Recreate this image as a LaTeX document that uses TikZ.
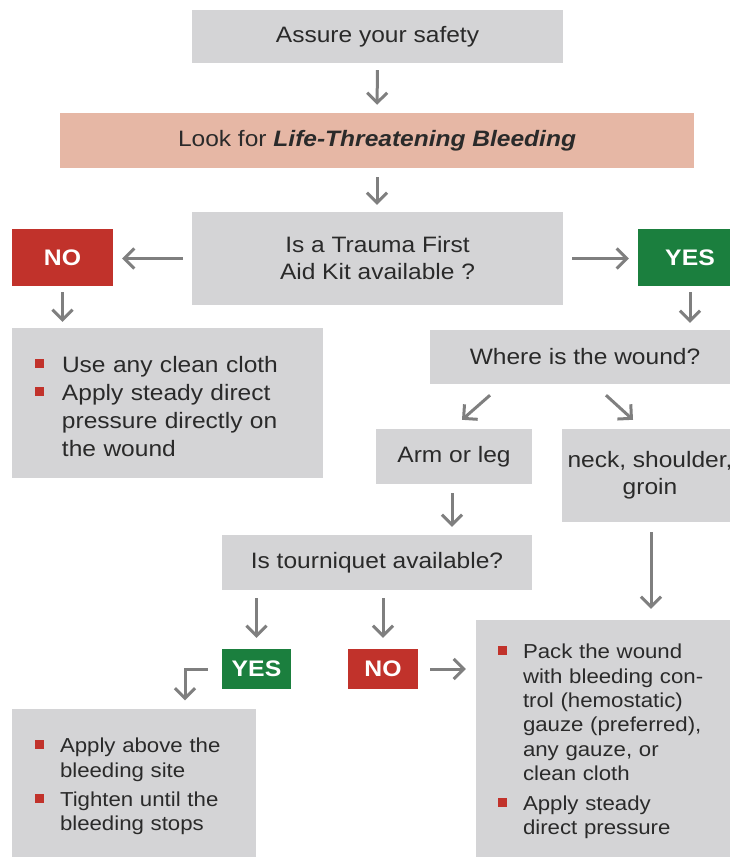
\documentclass[tikz,border=0pt]{standalone}
\usepackage{fontspec}
\setmainfont[FakeStretch=1.1]{Liberation Sans}
\usetikzlibrary{arrows.meta,calc}
\definecolor{boxgray}{HTML}{D4D4D6}
\definecolor{salmon}{HTML}{E6B7A5}
\definecolor{nored}{HTML}{C1322B}
\definecolor{yesgreen}{HTML}{1B7F3E}
\definecolor{arrgray}{HTML}{7F7F7F}
\definecolor{txt}{HTML}{2A2A2A}
\newcommand{\bsq}{\textcolor{nored}{\rule[4pt]{9pt}{9pt}}}
\newcommand{\mainsz}{\fontsize{22.3}{27}\selectfont}
\newcommand{\smallsz}{\fontsize{20.2}{24.3}\selectfont}
\tikzset{
  gbox/.style={fill=boxgray, inner sep=0pt, text=txt, font=\mainsz, align=center},
  flagno/.style={fill=nored, inner sep=0pt, text=white, font=\fontsize{22.5}{25}\selectfont\bfseries},
  flagyes/.style={fill=yesgreen, inner sep=0pt, text=white, font=\fontsize{22.5}{25}\selectfont\bfseries},
  arr/.style={draw=arrgray, line width=3pt, -{Straight Barb[length=10pt,width=20pt]}},
}
\begin{document}
\begin{tikzpicture}[x=1pt,y=-1pt]
\useasboundingbox (0,0) rectangle (730,857);
% nodes
\node[gbox, minimum width=371pt, minimum height=53pt] (safe) at (377.5,36.5) {Assure your safety};
\node[gbox, fill=salmon, minimum width=634pt, minimum height=55pt] (look) at (377,140.5) {Look for \textbf{\textit{Life-Threatening Bleeding}}};
\node[gbox, minimum width=371pt, minimum height=93pt] (kit) at (377.5,258.5) {Is a Trauma First\\Aid Kit available ?};
\node[flagno, minimum width=101pt, minimum height=57pt] (no1) at (62.5,257.5) {NO};
\node[flagyes, minimum width=104pt, minimum height=57pt] (yes1) at (690,257.5) {YES};
\node[gbox, align=left, font=\fontsize{22.3}{28}\selectfont, minimum width=311pt, minimum height=150pt, text width=265pt] (cloth) at (167.5,403) {%
\begin{tabular}{@{}l@{\hspace{18pt}}l@{}}
\rule{0pt}{30.6pt}\bsq & Use any clean cloth\\
\bsq & Apply steady direct\\
 & pressure directly on\\
 & the wound
\end{tabular}};
\node[gbox, minimum width=310pt, minimum height=54pt] (where) at (585,357) {Where is the wound?};
\node[gbox, minimum width=156pt, minimum height=55pt] (arm) at (454,456.5) {Arm or leg};
\node[gbox, minimum width=176pt, minimum height=93pt] (neck) at (650,475.5) {neck, shoulder,\\groin};
\node[gbox, minimum width=310pt, minimum height=55pt] (tq) at (377,562.5) {Is tourniquet available?};
\node[flagyes, minimum width=69pt, minimum height=40pt] (yes2) at (256.5,669) {YES};
\node[flagno, minimum width=70pt, minimum height=40pt] (no2) at (383,669) {NO};
\node[gbox, align=left, font=\smallsz, minimum width=264pt, minimum height=244pt, text width=220pt] (pack) at (608,742) {%
\begin{tabular}{@{}l@{\hspace{16pt}}l@{}}
\bsq & Pack the wound\\
 & with bleeding con-\\
 & trol (hemostatic)\\
 & gauze (preferred),\\
 & any gauze, or\\
 & clean cloth\\[6pt]
\bsq & Apply steady\\
 & direct pressure
\end{tabular}};
\node[gbox, align=left, font=\smallsz, minimum width=244pt, minimum height=157pt, text width=198pt] (apply) at (134,787) {%
\begin{tabular}{@{}l@{\hspace{16pt}}l@{}}
\bsq & Apply above the\\
 & bleeding site\\[5pt]
\bsq & Tighten until the\\
 & bleeding stops
\end{tabular}};
\coordinate (elbow) at (185,700);
% connectors
\draw[arr, shorten <=7pt, shorten >=8pt] (safe.south) -- (look.north);
\draw[arr, shorten <=9pt, shorten >=7pt] (look.south) -- (look.south |- kit.north);
\draw[arr, shorten <=9pt, shorten >=9pt] (kit.west) -- (kit.west -| no1.east);
\draw[arr, shorten <=9pt, shorten >=9pt] (kit.east) -- (kit.east -| yes1.west);
\draw[arr, shorten <=6pt, shorten >=6pt] (no1.south) -- (no1.south |- cloth.north);
\draw[arr, shorten <=6pt, shorten >=7pt] (yes1.south) -- (yes1.south |- where.north);
\draw[arr] ($(where.south)+(-95,11)$) -- ($(arm.north)+(8,-9)$);
\draw[arr] ($(where.south)+(21,11)$) -- ($(neck.north)+(-17,-9)$);
\draw[arr, shorten <=9pt, shorten >=8pt] ([xshift=-2pt]arm.south) -- ([xshift=-2pt]arm.south |- tq.north);
\draw[arr, shorten <=10pt, shorten >=11pt] ([xshift=1pt]neck.south) -- ([xshift=1pt]neck.south |- pack.north);
\draw[arr, shorten <=8pt, shorten >=11pt] (tq.south -| yes2.north) -- (yes2.north);
\draw[arr, shorten <=8pt, shorten >=11pt] (tq.south -| no2.north) -- (no2.north);
\draw[arr, shorten <=12pt, shorten >=10pt] (no2.east) -- (no2.east -| pack.west);
\draw[arr, shorten <=14pt, shorten >=8pt] (yes2.west) -| (apply.north -| elbow);
\end{tikzpicture}
\end{document}
